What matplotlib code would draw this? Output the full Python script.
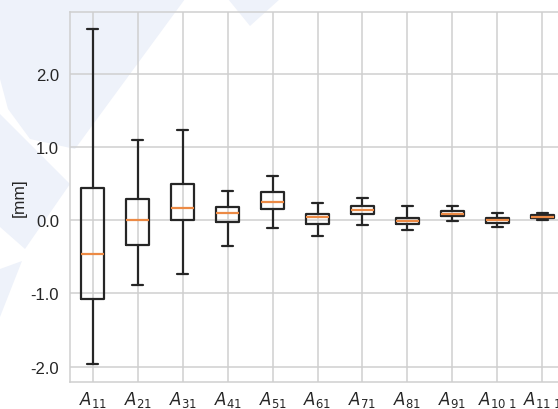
import matplotlib
matplotlib.use('Agg')
import matplotlib.pyplot as plt
import seaborn as sns
from matplotlib.patches import Polygon

# box statistics per component, values in mm
labels = [r'$A_{11}$', r'$A_{21}$', r'$A_{31}$', r'$A_{41}$', r'$A_{51}$',
          r'$A_{61}$', r'$A_{71}$', r'$A_{81}$', r'$A_{91}$',
          r'$A_{10\ 1}$', r'$A_{11\ 1}$']
whislo = [-1.97, -0.89, -0.74, -0.35, -0.10, -0.21, -0.07, -0.13, -0.01, -0.09, 0.01]
q1 = [-1.08, -0.34, 0.01, -0.03, 0.15, -0.05, 0.08, -0.05, 0.06, -0.04, 0.03]
med = [-0.46, 0.00, 0.17, 0.10, 0.25, 0.04, 0.14, -0.01, 0.09, 0.00, 0.05]
q3 = [0.44, 0.29, 0.50, 0.18, 0.38, 0.09, 0.19, 0.03, 0.12, 0.03, 0.07]
whishi = [2.61, 1.10, 1.23, 0.40, 0.60, 0.24, 0.30, 0.19, 0.20, 0.10, 0.10]

sns.set_theme(style='whitegrid')
plt.rcParams['font.family'] = ['Liberation Sans', 'DejaVu Sans']
plt.rcParams['mathtext.fontset'] = 'dejavusans'
plt.rcParams['axes.unicode_minus'] = False

W, H = 558, 410
fig = plt.figure(figsize=(W / 100, H / 100), dpi=100)

# pale logo in the background (pixel coords, y from top)
logo = [
    [(0, 0), (185, 0), (75, 150), (30, 140), (8, 110), (0, 80)],
    [(228, 0), (280, 0), (250, 27)],
    [(0, 115), (70, 185), (25, 250), (0, 228)],
    [(0, 270), (22, 262), (0, 318)],
]
for pts in logo:
    xy = [(x / W, 1 - y / H) for x, y in pts]
    fig.add_artist(Polygon(xy, closed=True, transform=fig.transFigure,
                           facecolor='#eef2fa', edgecolor='none', zorder=-1))

ax = fig.add_axes([70.2 / W, 27.3 / H, 494.6 / W, 369.4 / H])
ax.set_facecolor('none')

stats = []
for i in range(len(labels)):
    stats.append(dict(label=labels[i], whislo=whislo[i], q1=q1[i], med=med[i],
                      q3=q3[i], whishi=whishi[i], fliers=[]))

line = dict(color='#262626', linewidth=1.6)
ax.bxp(stats, positions=range(1, len(labels) + 1), widths=0.5, showfliers=False,
       boxprops=line, whiskerprops=line, capprops=line,
       medianprops=dict(color='#ec8a45', linewidth=1.6))

ax.set_xlim(0.5, len(labels) + 0.5)
ax.set_ylim(-2.205, 2.84)
ax.set_yticks([-2, -1, 0, 1, 2])
ax.set_yticklabels(['%.1f' % v for v in [-2, -1, 0, 1, 2]])
ax.grid(True, color='#cfcfcf', linewidth=1.1)
ax.set_axisbelow(True)
for s in ax.spines.values():
    s.set_color('#cfcfcf')
    s.set_linewidth(1.1)
ax.tick_params(axis='both', length=0, colors='#262626')
ax.tick_params(axis='y', pad=8, labelsize=12)
ax.tick_params(axis='x', pad=5, labelsize=12)
ax.set_ylabel('[mm]', fontsize=12.5, color='#262626', labelpad=3)

fig.savefig('out.png', dpi=100)
